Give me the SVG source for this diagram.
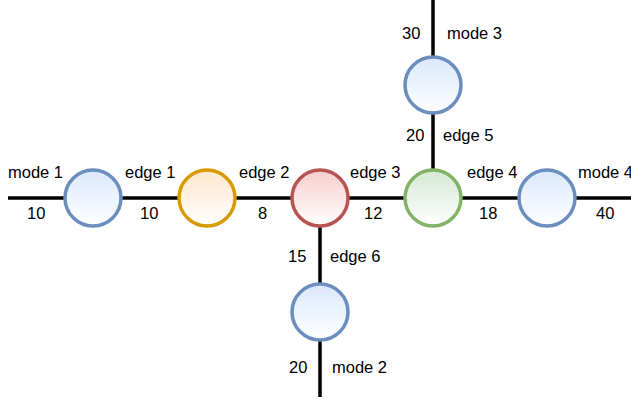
<svg xmlns="http://www.w3.org/2000/svg" width="631" height="400" viewBox="0 0 631 400">
<defs>
<linearGradient id="gBlue" x1="0" y1="0" x2="0" y2="1"><stop offset="0" stop-color="#dae8fc"/><stop offset="1" stop-color="#ffffff"/></linearGradient>
<linearGradient id="gOrange" x1="0" y1="0" x2="0" y2="1"><stop offset="0" stop-color="#ffe6cc"/><stop offset="1" stop-color="#ffffff"/></linearGradient>
<linearGradient id="gRed" x1="0" y1="0" x2="0" y2="1"><stop offset="0" stop-color="#f8cecc"/><stop offset="1" stop-color="#ffffff"/></linearGradient>
<linearGradient id="gGreen" x1="0" y1="0" x2="0" y2="1"><stop offset="0" stop-color="#d5e8d4"/><stop offset="1" stop-color="#ffffff"/></linearGradient>
</defs>
<style>
.edge{stroke:#000;stroke-width:3.5;fill:none}
.node{stroke-width:3.5}
.blue{fill:url(#gBlue);stroke:#6c8ebf}
.orange{fill:url(#gOrange);stroke:#d79b00}
.red{fill:url(#gRed);stroke:#b85450}
.green{fill:url(#gGreen);stroke:#82b366}
text{font-family:"Liberation Sans",Arial,sans-serif;font-size:16.5px;fill:#000}
</style>
<rect width="631" height="400" fill="#fff"/>
<g id="connectors">
<line class="edge" x1="8" y1="198" x2="631" y2="198"/>
<line class="edge" x1="433" y1="0" x2="433" y2="198"/>
<line class="edge" x1="320" y1="198" x2="320" y2="397"/>
</g>
<g id="n1"><circle class="node blue" cx="93" cy="198" r="28"/></g>
<g id="n2"><circle class="node orange" cx="207" cy="198" r="28"/></g>
<g id="n3"><circle class="node red" cx="320" cy="198" r="28"/></g>
<g id="n4"><circle class="node green" cx="433" cy="198" r="28"/></g>
<g id="n5"><circle class="node blue" cx="547" cy="198" r="28"/></g>
<g id="n6"><circle class="node blue" cx="433" cy="85" r="28"/></g>
<g id="n7"><circle class="node blue" cx="320" cy="312" r="28"/></g>
<g id="labels">
<text x="8" y="178">mode 1</text>
<text x="27" y="219">10</text>
<text x="125" y="178">edge 1</text>
<text x="140" y="219">10</text>
<text x="239" y="178">edge 2</text>
<text x="258" y="219">8</text>
<text x="350" y="178">edge 3</text>
<text x="364" y="219">12</text>
<text x="467" y="178">edge 4</text>
<text x="479" y="219">18</text>
<text x="578" y="178">mode 4</text>
<text x="596" y="219">40</text>
<text x="402" y="39">30</text>
<text x="447" y="39">mode 3</text>
<text x="406" y="141">20</text>
<text x="443" y="141">edge 5</text>
<text x="288" y="262">15</text>
<text x="330" y="262">edge 6</text>
<text x="289" y="373">20</text>
<text x="332" y="373">mode 2</text>
</g>
</svg>
